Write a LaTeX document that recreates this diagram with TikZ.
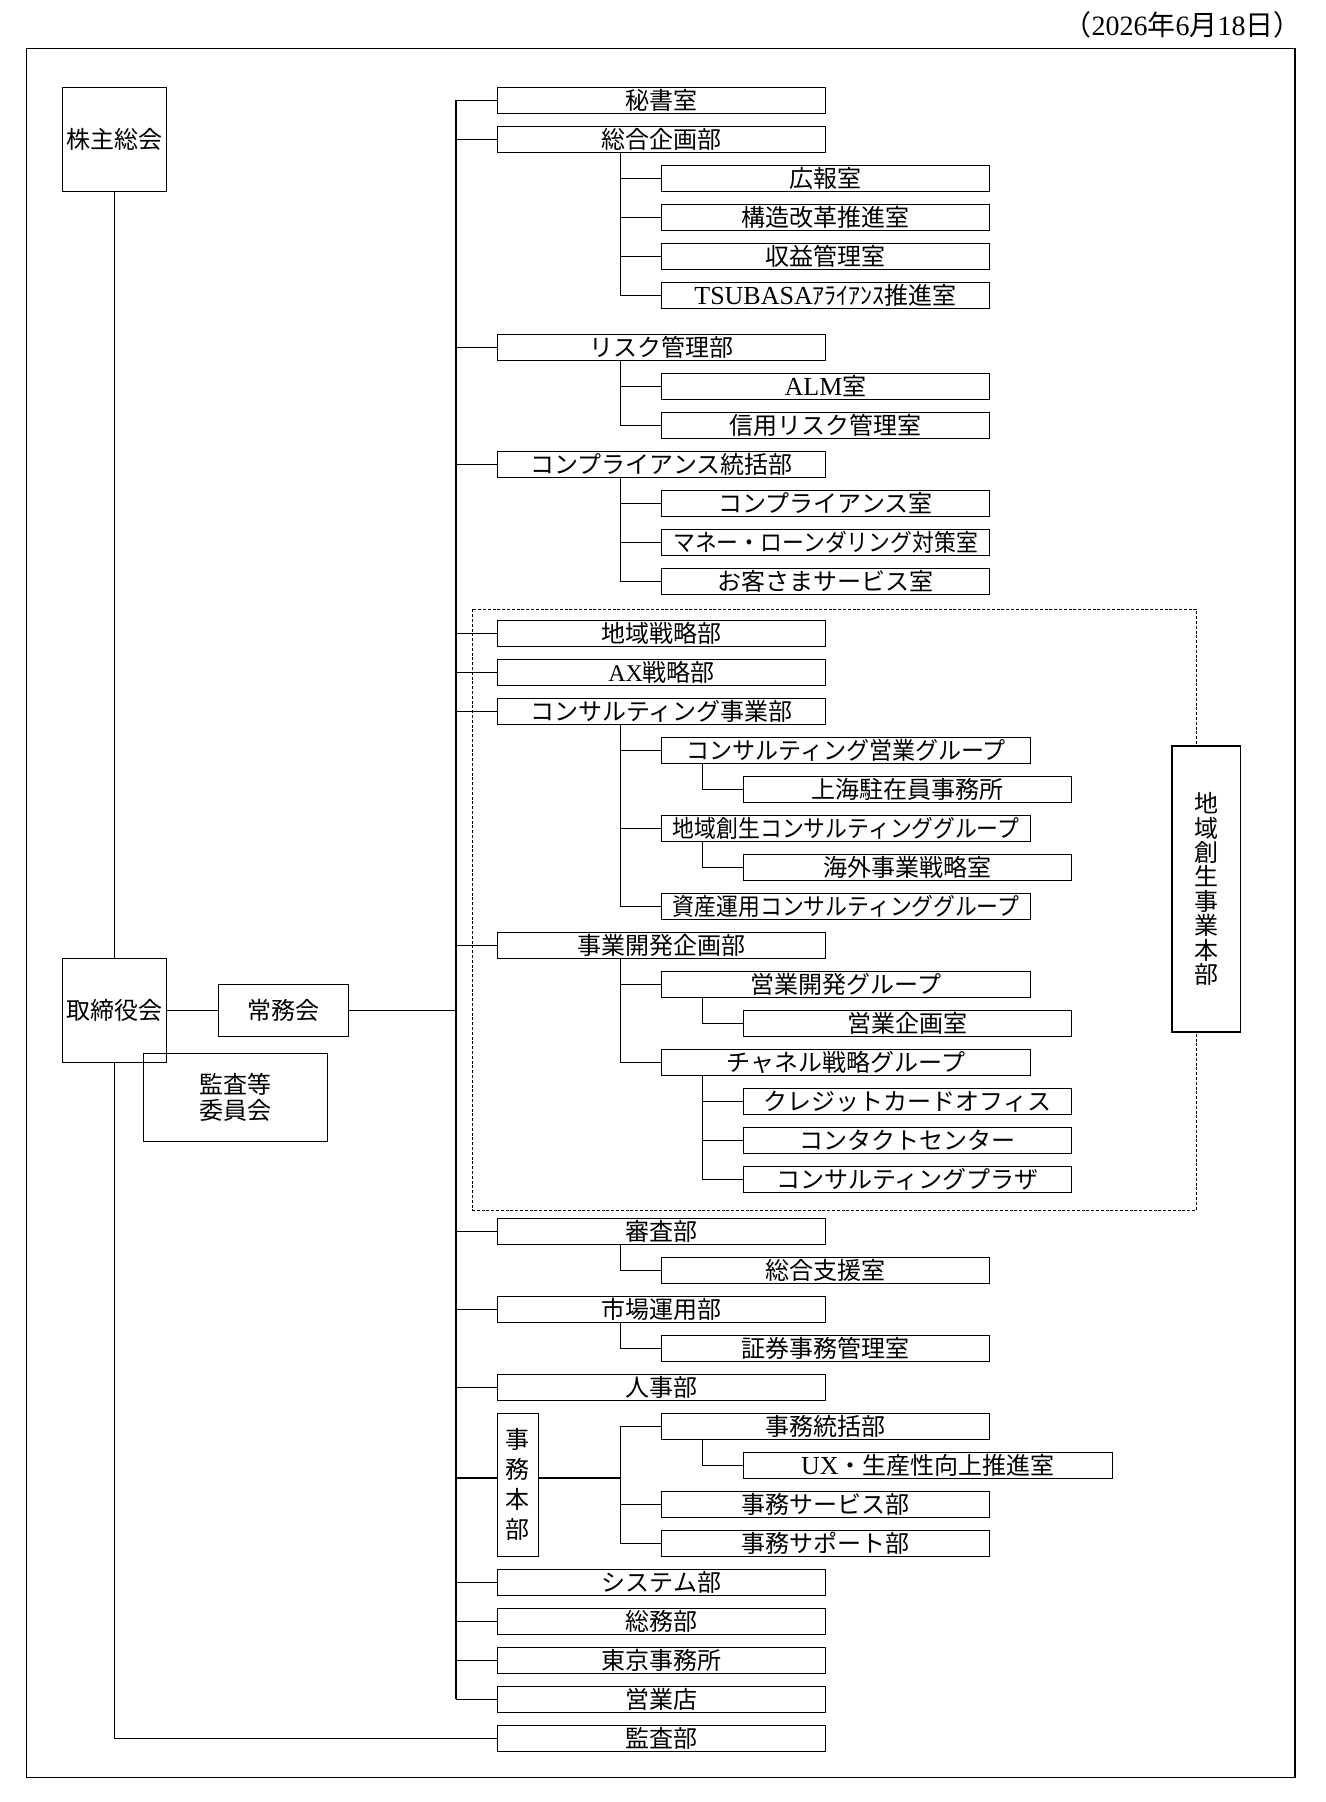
\documentclass[tikz,border=0pt]{standalone}
\usepackage{fontspec}
\usepackage{graphicx}
\setmainfont{Noto Sans CJK JP}
\newfontfamily\lat{Liberation Serif}
\usetikzlibrary{calc}
\newcommand\bxfont{\fontsize{12pt}{14pt}\selectfont}
\newcommand\sq[2][0.9]{\scalebox{#1}[1]{#2}}
\tikzset{
  ln/.style={line width=0.6pt},
  bx/.style={draw, line width=0.6pt, minimum height=13pt, inner sep=0pt, anchor=west, font=\bxfont},
  wA/.style={bx, minimum width=164pt},
  wB/.style={bx, minimum width=184.5pt},
  big/.style={draw, line width=0.6pt, inner sep=0pt, font=\bxfont, align=center},
}
\begin{document}
\begin{tikzpicture}[x=0.5pt,y=-0.5pt]
\useasboundingbox (0,0) rectangle (1326,1802);
% date
\node[anchor=east, inner sep=0pt, font=\fontsize{14pt}{16pt}\selectfont] (date) at (1302,25) {（{\lat 2026}年{\lat 6}月{\lat 18}日）};
% frame
\draw[ln] (26.4,48.3) rectangle (1295,1777.3);
% dotted region
\draw[line width=0.45pt, dash pattern=on 1.5pt off 0.9pt] (472.9,609.3) rectangle (1196,1210.3);

% left column
\node[big, minimum width=52pt, minimum height=52pt] (kabunushi) at (114.5,139.3) {株主総会};
\node[big, minimum width=52pt, minimum height=52pt] (torishimari) at (114.5,1010.3) {取締役会};
\node[big, minimum width=65.2pt, minimum height=26pt] (jomu) at (283.5,1010.3) {常務会};
\node[big, minimum width=92.2pt, minimum height=44pt, font=\fontsize{12pt}{12.8pt}\selectfont] (kansaiin) at (235.5,1097.3) {監査等\\委員会};

% level 1
\node[wA] (hisho) at (497,100.3) {秘書室};
\node[wA] (sogo) at (497,139.3) {総合企画部};
\node[wA] (risk) at (497,347.3) {リスク管理部};
\node[wA] (comp) at (497,464.3) {コンプライアンス統括部};
\node[wA] (chiiki) at (497,633.3) {地域戦略部};
\node[wA] (ax) at (497,672.3) {{\lat AX}戦略部};
\node[wA] (consul) at (497,711.3) {コンサルティング事業部};
\node[wA] (jigyo) at (497,945.3) {事業開発企画部};
\node[wA] (shinsa) at (497,1231.3) {審査部};
\node[wA] (shijo) at (497,1309.3) {市場運用部};
\node[wA] (jinji) at (497,1387.3) {人事部};
\node[wA] (system) at (497,1582.3) {システム部};
\node[wA] (somu) at (497,1621.3) {総務部};
\node[wA] (tokyo) at (497,1660.3) {東京事務所};
\node[wA] (eigyoten) at (497,1699.3) {営業店};
\node[wA] (kansa) at (497,1738.3) {監査部};
\node[big, minimum width=20.5pt, minimum height=71.5pt, font=\fontsize{12pt}{15pt}\selectfont] (jimuhonbu) at (517.85,1484.8) {事\\務\\本\\部};

% level 2
\node[wA] (koho) at (661,178.3) {広報室};
\node[wA] (kozo) at (661,217.3) {構造改革推進室};
\node[wA] (shueki) at (661,256.3) {収益管理室};
\node[wA] (tsubasa) at (661,295.3) {{\lat\fontsize{13pt}{14pt}\selectfont TSUBASA}ｱﾗｲｱﾝｽ推進室};
\node[wA] (alm) at (661,386.3) {{\lat\fontsize{13pt}{14pt}\selectfont ALM}室};
\node[wA] (shinyo) at (661,425.3) {信用リスク管理室};
\node[wA] (compr) at (661,503.3) {コンプライアンス室};
\node[wA] (money) at (661,542.3) {\sq[0.91]{マネー・ローンダリング対策室}};
\node[wA] (okyaku) at (661,581.3) {お客さまサービス室};
\node[wB] (eigyoG) at (661,750.3) {\sq[0.96]{コンサルティング営業グループ}};
\node[wB] (sosei) at (661,828.3) {\sq[0.91]{地域創生コンサルティンググループ}};
\node[wB] (shisan) at (661,906.3) {\sq[0.91]{資産運用コンサルティンググループ}};
\node[wB] (kaihatsuG) at (661,984.3) {営業開発グループ};
\node[wB] (channel) at (661,1062.3) {チャネル戦略グループ};
\node[wA] (sogoshien) at (661,1270.3) {総合支援室};
\node[wA] (shoken) at (661,1348.3) {証券事務管理室};
\node[wA] (jimutokatsu) at (661,1426.3) {事務統括部};
\node[wA] (jimuservice) at (661,1504.3) {事務サービス部};
\node[wA] (jimusupport) at (661,1543.3) {事務サポート部};

% level 3
\node[wA] (shanghai) at (742.7,789.3) {上海駐在員事務所};
\node[wA] (kaigai) at (742.7,867.3) {海外事業戦略室};
\node[wA] (eigyokikaku) at (742.7,1023.3) {営業企画室};
\node[wA] (credit) at (742.7,1101.3) {クレジットカードオフィス};
\node[wA] (contact) at (742.7,1140.3) {コンタクトセンター};
\node[wA] (plaza) at (742.7,1179.3) {コンサルティングプラザ};
\node[wB] (ux) at (742.7,1465.3) {{\lat\fontsize{13pt}{14pt}\selectfont UX}・生産性向上推進室};

% regional HQ label box
\node[big, fill=white, minimum width=34.25pt, minimum height=143pt, font=\fontsize{12pt}{12.2pt}\selectfont] (soseihonbu) at (1206.25,889) {地\\域\\創\\生\\事\\業\\本\\部};

% ---- connectors ----
\coordinate (bus) at (456,0);
\draw[ln] (kabunushi.south) -- (torishimari.north);
\draw[ln] (torishimari.south) |- (kansa.west);
\draw[ln] (torishimari.east) -- (jomu.west);
\draw[ln] (jomu.east) -- (jomu.east -| bus);
\draw[ln] (hisho.west -| bus) -- (eigyoten.west -| bus);
\foreach \n in {hisho,sogo,risk,comp,chiiki,ax,consul,jigyo,shinsa,shijo,jinji,system,somu,tokyo,eigyoten}
  \draw[ln] (\n.west) -- (\n.west -| bus);
% jimu honbu
\coordinate (jh) at (456,1478);
\draw[ln] (jh) -- (jh -| jimuhonbu.west);
\draw[ln] (jh -| jimuhonbu.east) -- ($(jh -| jimutokatsu.west)+(-40.5,0)$);
\draw[ln] (jimutokatsu.west) -- ++(-40.5,0) |- (jimusupport.west);
\draw[ln] (jimuservice.west) -- ++(-40.5,0);
% level1 -> level2
\foreach \p/\c in {sogo/koho,sogo/kozo,sogo/shueki,sogo/tsubasa,risk/alm,risk/shinyo,comp/compr,comp/money,comp/okyaku,consul/eigyoG,consul/sosei,consul/shisan,jigyo/kaihatsuG,jigyo/channel,shinsa/sogoshien,shijo/shoken}
  \draw[ln] ($(\p.south west)+(123.5,0)$) |- (\c.west);
% level2 -> level3
\foreach \p/\c in {eigyoG/shanghai,sosei/kaigai,kaihatsuG/eigyokikaku,channel/credit,channel/contact,channel/plaza,jimutokatsu/ux}
  \draw[ln] ($(\p.south west)+(41.5,0)$) |- (\c.west);
\end{tikzpicture}
\end{document}
